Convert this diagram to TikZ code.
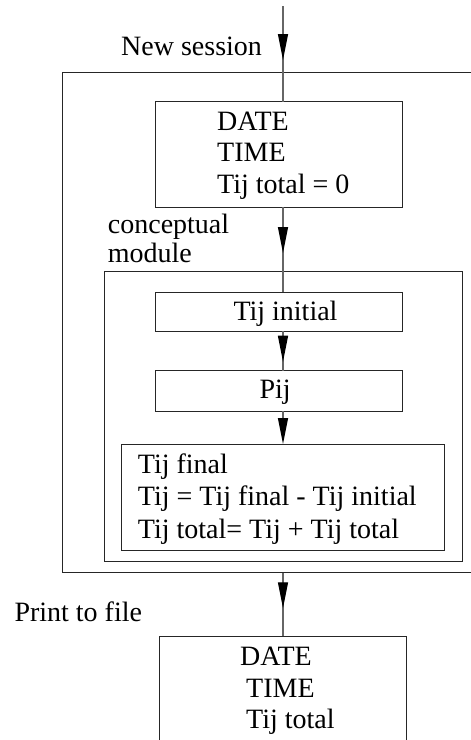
\documentclass[tikz,border=0pt]{standalone}
\usepackage{fontspec}
\setmainfont{Liberation Serif}
\usetikzlibrary{arrows.meta,decorations.markings}
\tikzset{
  box/.style={draw=black!85, line width=1pt, rectangle, inner sep=0pt, outer sep=0pt},
  txt/.style={font=\fontsize{28}{32}\selectfont, inner sep=0pt, align=left, anchor=base west},
  conn/.style={draw=black!60, line width=1.2pt},
  arrowat/.style={postaction={decorate, decoration={markings,
      mark=at position #1 with {\arrow{Triangle[length=26pt,width=10pt,color=black]}}}}}
}
\begin{document}
\begin{tikzpicture}[x=1pt,y=-1pt]
\useasboundingbox (0,0) rectangle (471,740);
\clip (0,0) rectangle (471,740);
% boxes
\node[box, minimum width=417.7, minimum height=500] (outer) at (271.15,322.7) {};
\node[box, minimum width=247.4, minimum height=105.3] (date) at (279,154.35) {};
\node[box, minimum width=358, minimum height=290] (module) at (283.3,416.7) {};
\node[box, minimum width=247.4, minimum height=38.7] (init) at (279,311.65) {};
\node[box, minimum width=247.4, minimum height=40.6] (pij) at (279,391) {};
\node[box, minimum width=323.3, minimum height=106] (final) at (282.65,497) {};
\node[box, minimum width=247.4, minimum height=134] (out) at (283,703) {};
% texts (multi-line nodes: base anchor is the last line)
\node[txt] (tnew) at (121,55) {New session};
\node[txt, font=\fontsize{28}{31.5}\selectfont] (tdate) at (217,193) {DATE\\TIME\\Tij total = 0};
\node[txt, font=\fontsize{28}{29}\selectfont] (tmod) at (107.7,262.3) {conceptual\\module};
\node[txt] (tinit) at (233.3,320) {Tij initial};
\node[txt] (tpij) at (259.3,398) {Pij};
\node[txt, font=\fontsize{28}{32.5}\selectfont] (tfinal) at (137.7,538.3) {Tij final\\Tij = Tij final - Tij initial\\Tij total= Tij + Tij total};
\node[txt] (tprint) at (14.3,621) {Print to file};
\node[txt, font=\fontsize{28}{31.2}\selectfont] (tout) at (240,728.3) {DATE\\\hspace*{6pt}TIME\\\hspace*{6pt}Tij total};
% connectors
\coordinate (top) at (283,6);
\draw[conn, arrowat=54pt] (top) -- (date.north -| top);
\draw[conn, arrowat=46pt] (date.south -| top) -- (init.north -| top);
\draw[conn, arrowat=30.7pt] (init.south -| top) -- (pij.north -| top);
\draw[conn, -{Triangle[length=26pt,width=10pt,color=black]}] (pij.south -| top) -- (final.north -| top);
\draw[conn, arrowat=35.6pt] (outer.south -| top) -- (out.north -| top);
\end{tikzpicture}
\end{document}
